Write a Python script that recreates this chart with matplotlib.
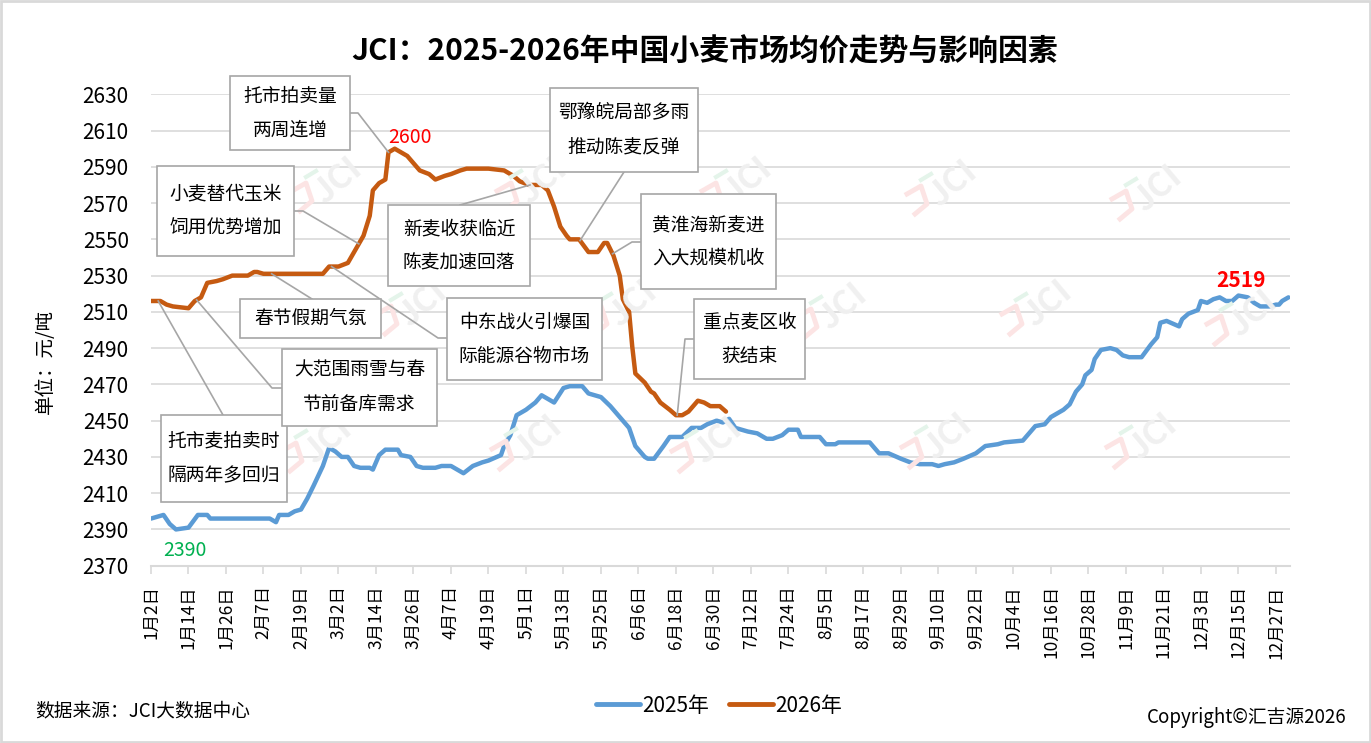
import numpy as np
import matplotlib
matplotlib.use("Agg")
import matplotlib.pyplot as plt
from matplotlib.lines import Line2D
from matplotlib.patches import Rectangle

plt.rcParams['font.family'] = ['Noto Sans CJK SC', 'DejaVu Sans']

# ---------------- data ----------------
title = "JCI：2025-2026年中国小麦市场均价走势与影响因素"
y_label = "单位：元/吨"
series_names = ["2025年", "2026年"]

tick_days = list(range(0, 361, 12))
tick_labels = ["1月2日", "1月14日", "1月26日", "2月7日", "2月19日", "3月2日", "3月14日",
               "3月26日", "4月7日", "4月19日", "5月1日", "5月13日", "5月25日", "6月6日",
               "6月18日", "6月30日", "7月12日", "7月24日", "8月5日", "8月17日", "8月29日",
               "9月10日", "9月22日", "10月4日", "10月16日", "10月28日", "11月9日", "11月21日",
               "12月3日", "12月15日", "12月27日"]

days_2025 = [0, 2, 4, 6, 8, 12, 15, 18, 19, 38, 40, 41, 44, 46, 48, 50, 52, 55, 57, 59,
             61, 63, 65, 67, 70, 71, 73, 75, 79, 80, 83, 85, 87, 91, 93, 96, 98, 100, 103, 106,
             108, 112, 113, 115, 117, 120, 123, 125, 129, 132, 134, 138, 140, 144, 147, 150, 153, 155, 158, 159,
             161, 164, 166, 170, 173, 176, 178, 181, 183, 185, 187, 191, 194, 197, 199, 202, 204, 207, 208, 214,
             216, 219, 220, 230, 233, 236, 240, 243, 246, 250, 252, 254, 257, 260, 264, 267, 271, 273, 279, 280,
             283, 286, 288, 292, 294, 296, 298, 299, 301, 302, 304, 307, 309, 311, 313, 317, 320, 322, 323, 325,
             329, 330, 332, 335, 336, 338, 340, 342, 344, 346, 348, 351, 353, 355, 358, 360, 361, 362, 364]
vals_2025 = [2396, 2397, 2398, 2393, 2390, 2391, 2398, 2398, 2396, 2396, 2394, 2398, 2398, 2400, 2401, 2407, 2414, 2425, 2435, 2433,
             2430, 2430, 2425, 2424, 2424, 2423, 2431, 2434, 2434, 2431, 2430, 2425, 2424, 2424, 2425, 2425, 2423, 2421, 2425, 2427,
             2428, 2431, 2436, 2442, 2453, 2456, 2460, 2464, 2460, 2468, 2469, 2469, 2465, 2463, 2458, 2452, 2446, 2436, 2430, 2429,
             2429, 2436, 2441, 2441, 2446, 2446, 2448, 2450, 2449, 2451, 2446, 2444, 2443, 2440, 2440, 2442, 2445, 2445, 2441, 2441,
             2437, 2437, 2438, 2438, 2432, 2432, 2429, 2427, 2426, 2426, 2425, 2426, 2427, 2429, 2432, 2436, 2437, 2438, 2439, 2441,
             2447, 2448, 2452, 2456, 2459, 2466, 2470, 2475, 2478, 2484, 2489, 2490, 2489, 2486, 2485, 2485, 2492, 2496, 2504, 2505,
             2502, 2506, 2509, 2511, 2516, 2515, 2517, 2518, 2516, 2516, 2519, 2518, 2515, 2513, 2513, 2514, 2514, 2516, 2518]

days_2026 = [0, 3, 5, 7, 12, 14, 16, 18, 21, 23, 26, 31, 33, 34, 36, 55, 57, 60, 63, 65,
             68, 70, 71, 73, 75, 76, 78, 80, 82, 86, 89, 91, 94, 96, 99, 101, 103, 108, 113, 116,
             118, 121, 125, 127, 129, 131, 133, 134, 137, 140, 143, 145, 146, 148, 150, 151, 153, 154, 155, 158,
             160, 161, 163, 166, 168, 170, 172, 175, 177, 179, 182, 184]
vals_2026 = [2516, 2516, 2514, 2513, 2512, 2516, 2518, 2526, 2527, 2528, 2530, 2530, 2532, 2532, 2531, 2531, 2535, 2535, 2537, 2543,
             2552, 2563, 2577, 2581, 2583, 2598, 2600, 2598, 2596, 2588, 2586, 2583, 2585, 2586, 2588, 2589, 2589, 2589, 2588, 2585,
             2582, 2580, 2580, 2577, 2568, 2557, 2552, 2550, 2550, 2543, 2543, 2548, 2548, 2541, 2530, 2517, 2510, 2491, 2476, 2471,
             2466, 2465, 2460, 2456, 2453, 2453, 2455, 2461, 2460, 2458, 2458, 2455]

note_texts = ["托市拍卖量\n两周连增", "小麦替代玉米\n饲用优势增加", "春节假期气氛",
              "大范围雨雪与春\n节前备库需求", "托市麦拍卖时\n隔两年多回归", "中东战火引爆国\n际能源谷物市场",
              "新麦收获临近\n陈麦加速回落", "鄂豫皖局部多雨\n推动陈麦反弹", "黄淮海新麦进\n入大规模机收",
              "重点麦区收\n获结束"]
note_anchor_days = [76, 66.5, 38.6, 14.6, 2.3, 57.8, 121.3, 137.3, 147.7, 168.4]

# ---------------- layout (pixels, from top-left) ----------------
W, H = 1371, 743
note_boxes = [(230, 76, 350, 150), (157, 166, 294, 256), (240, 299, 381, 338),
              (282, 349, 437, 426), (161, 415, 287, 502), (447, 298, 602, 380),
              (388, 205, 530, 286), (550, 88, 698, 172), (641, 194, 776, 289),
              (694, 299, 805, 379)]
note_box_order = [0, 1, 2, 4, 3, 5, 6, 7, 8, 9]
note_paths = [[(350, 113), (358, 113)], [(294, 211), (303, 211)], [(312, 299)],
              [(282, 388), (272, 388)], [(223, 415)], [(447, 338), (438, 338)],
              [(460, 205)], [(624, 172)], [(641, 242), (632, 242)], [(694, 339), (685, 339)]]

BLUE = "#5B9BD5"
ORANGE = "#C55A11"
GRID = "#D9D9D9"
BOXC = "#A6A6A6"


def fx(x):
    return x / W


def fy(y):
    return 1 - y / H


fig = plt.figure(figsize=(W / 100, H / 100), dpi=100)
ax = fig.add_axes([fx(151), fy(565.7), (1290 - 151) / W, (565.7 - 94.3) / H])

ax.plot(days_2025, vals_2025, color=BLUE, lw=3.2, solid_joinstyle='round', solid_capstyle='round', zorder=3)
ax.plot(days_2026, vals_2026, color=ORANGE, lw=3.2, solid_joinstyle='round', solid_capstyle='round', zorder=3)

ax.set_xlim(0, 364.5)
ax.set_ylim(2370, 2630)
ax.set_yticks(np.arange(2370, 2631, 20))
ax.set_xticks(tick_days)
ax.set_xticklabels(tick_labels, rotation=90, fontsize=12.5)
ax.tick_params(axis='x', length=6, width=1.2, color=GRID, pad=8)
ax.tick_params(axis='y', length=0, pad=16, labelsize=15)
ax.grid(axis='y', color=GRID, lw=1.2)
ax.set_axisbelow(True)
for s in ['top', 'right', 'left']:
    ax.spines[s].set_visible(False)
ax.spines['bottom'].set_color(GRID)
ax.spines['bottom'].set_linewidth(1.5)

# watermarks
wm = [(330, 187), (535, 187), (740, 187), (945, 190), (1150, 195),
      (415, 310), (625, 310), (835, 313), (1040, 310), (1245, 320),
      (320, 447), (530, 445), (710, 447), (940, 443), (1145, 443)]
for (x, y) in wm:
    fig.text(fx(x + 8), fy(y - 6), "JCI", rotation=40, fontsize=24, fontweight='bold',
             color="#F0F0F0", ha='center', va='center', zorder=0.5)
    fig.add_artist(Line2D([fx(x - 38), fx(x - 24), fx(x - 18), fx(x - 30)],
                          [fy(y + 4), fy(y - 4), fy(y + 14), fy(y + 24)],
                          color="#FCE4E4", lw=3.5, zorder=0.5))
    fig.add_artist(Line2D([fx(x - 24), fx(x - 14)], [fy(y - 10), fy(y - 16)],
                          color="#E4F4EA", lw=3, zorder=0.5))

# value labels from the data
i_max26 = int(np.argmax(vals_2026))
ax.annotate(str(vals_2026[i_max26]), (days_2026[i_max26], vals_2026[i_max26]), xytext=(11, 8),
            textcoords='offset points', ha='center', va='center', color='#FF0000', fontsize=14, zorder=6)
i_min25 = int(np.argmin(vals_2025))
ax.annotate(str(vals_2025[i_min25]), (days_2025[i_min25], vals_2025[i_min25]), xytext=(6.5, -15.5),
            textcoords='offset points', ha='center', va='center', color='#00B050', fontsize=14, zorder=6)
i_max25 = int(np.argmax(vals_2025))
ax.annotate(str(vals_2025[i_max25]), (days_2025[i_max25], vals_2025[i_max25]), xytext=(2, 11),
            textcoords='offset points', ha='center', va='center', color='#FF0000', fontsize=15,
            fontweight='bold', zorder=6)

# callouts
inv = fig.transFigure.inverted()
for k in range(len(note_texts)):
    day = note_anchor_days[k]
    val = float(np.interp(day, days_2026, vals_2026))
    px, py = ax.transData.transform((day, val))
    ex, ey = inv.transform((px, py))
    xs = [fx(p[0]) for p in note_paths[k]] + [ex]
    ys = [fy(p[1]) for p in note_paths[k]] + [ey]
    fig.add_artist(Line2D(xs, ys, color=BOXC, lw=1.2, zorder=4))

for k in note_box_order:
    x0, y0, x1, y1 = note_boxes[k]
    fig.add_artist(Rectangle((fx(x0), fy(y1)), (x1 - x0) / W, (y1 - y0) / H,
                             facecolor='white', edgecolor=BOXC, lw=1.2, zorder=5))
    lines = note_texts[k].split("\n")
    cx, cy = (x0 + x1) / 2, (y0 + y1) / 2
    n = len(lines)
    for j, line in enumerate(lines):
        ly = cy + (j - (n - 1) / 2) * 34
        fig.text(fx(cx), fy(ly), line, ha='center', va='center', fontsize=13.5, zorder=6)

# title, labels, legend, footer
fig.text(fx(705), fy(52), title, ha='center', va='center', fontsize=21.5, fontweight='bold')
fig.text(fx(45), fy(361), y_label, rotation=90, ha='center', va='center', fontsize=14)

handles = [Line2D([], [], color=BLUE, lw=3.5, solid_capstyle='round'),
           Line2D([], [], color=ORANGE, lw=3.5, solid_capstyle='round')]
fig.legend(handles, series_names, loc='center', bbox_to_anchor=(fx(719), fy(705.7)), ncol=2,
           frameon=False, fontsize=15, handlelength=2.1, handletextpad=0.1, columnspacing=1.0)

fig.text(fx(35), fy(711), "数据来源：JCI大数据中心", ha='left', va='center', fontsize=13.5)
fig.text(fx(1347), fy(717), "Copyright©汇吉源2026", ha='right', va='center', fontsize=13.5)

fig.add_artist(Rectangle((0.0008, 0.0013), 0.9984, 0.9974, transform=fig.transFigure,
                         facecolor='none', edgecolor=GRID, lw=2, zorder=10))

fig.savefig("out.png", dpi=100, facecolor='white')
